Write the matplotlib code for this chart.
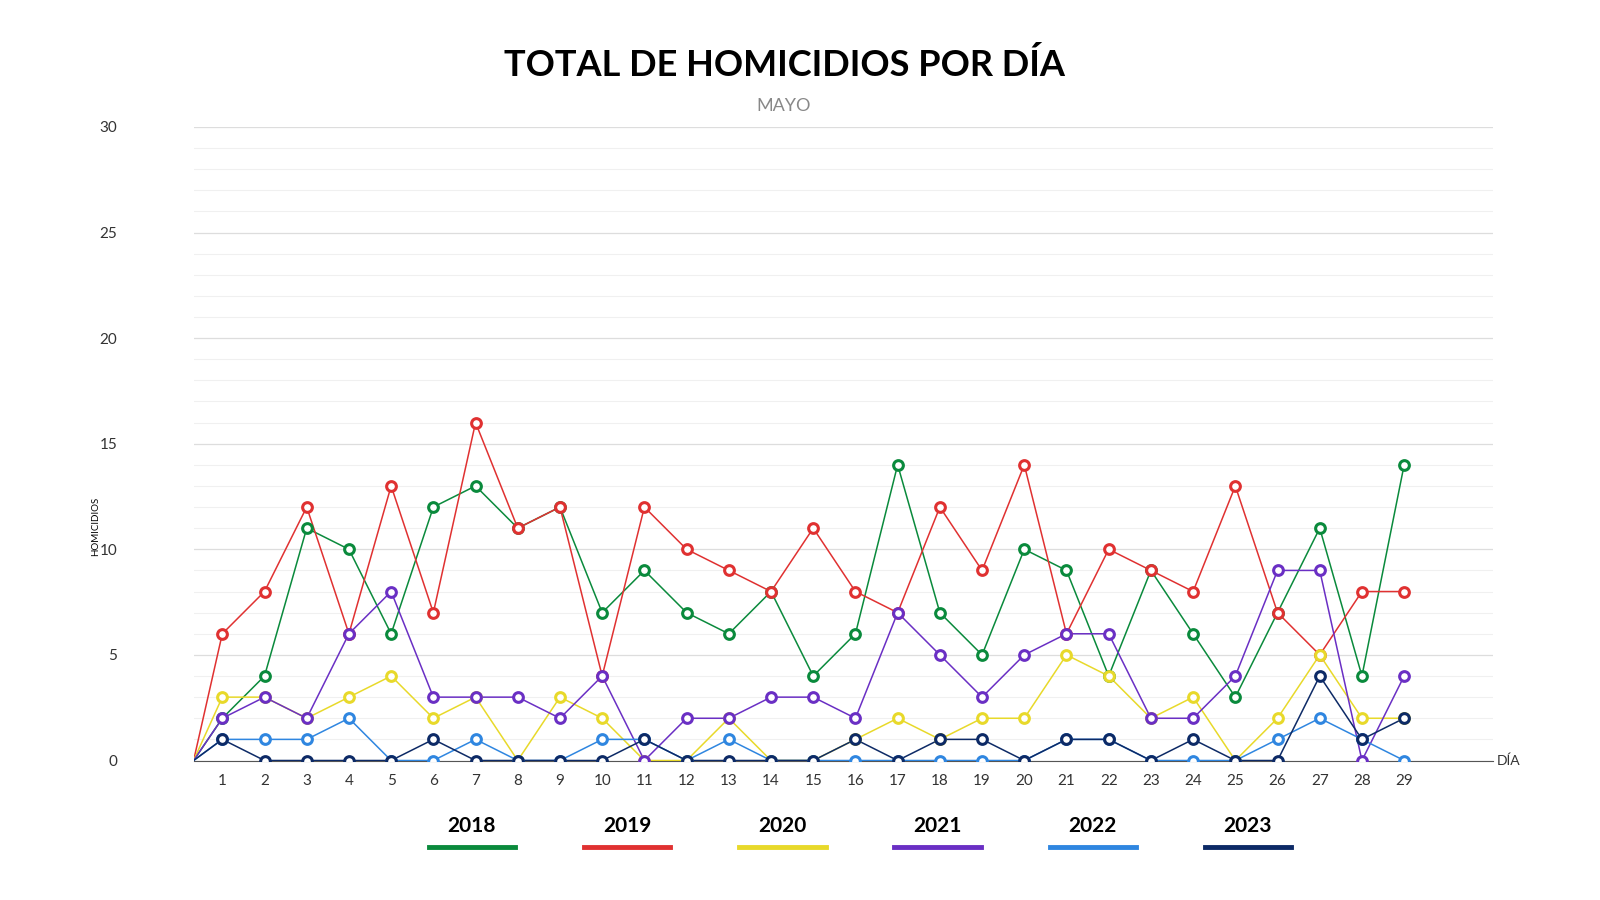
import numpy as np
import matplotlib.pyplot as plt
from matplotlib.lines import Line2D

days = np.arange(1, 30)
years = ['2018', '2019', '2020', '2021', '2022', '2023']
colors = ['#0a8a3c', '#e03131', '#e8d92a', '#6a2fc4', '#2f86e0', '#0d2a66']
v2018 = [2, 4, 11, 10, 6, 12, 13, 11, 12, 7, 9, 7, 6, 8, 4, 6, 14, 7, 5, 10, 9, 4, 9, 6, 3, 7, 11, 4, 14]
v2019 = [6, 8, 12, 6, 13, 7, 16, 11, 12, 4, 12, 10, 9, 8, 11, 8, 7, 12, 9, 14, 6, 10, 9, 8, 13, 7, 5, 8, 8]
v2020 = [3, 3, 2, 3, 4, 2, 3, 0, 3, 2, 0, 0, 2, 0, 0, 1, 2, 1, 2, 2, 5, 4, 2, 3, 0, 2, 5, 2, 2]
v2021 = [2, 3, 2, 6, 8, 3, 3, 3, 2, 4, 0, 2, 2, 3, 3, 2, 7, 5, 3, 5, 6, 6, 2, 2, 4, 9, 9, 0, 4]
v2022 = [1, 1, 1, 2, 0, 0, 1, 0, 0, 1, 1, 0, 1, 0, 0, 0, 0, 0, 0, 0, 1, 1, 0, 0, 0, 1, 2, 1, 0]
v2023 = [1, 0, 0, 0, 0, 1, 0, 0, 0, 0, 1, 0, 0, 0, 0, 1, 0, 1, 1, 0, 1, 1, 0, 1, 0, 0, 4, 1, 2]
series = [v2018, v2019, v2020, v2021, v2022, v2023]

plt.rcParams['font.family'] = ['Lato', 'DejaVu Sans']
fig = plt.figure(figsize=(16, 9), dpi=100)
ax = fig.add_axes([0.121, 0.155, 0.812, 0.704])

x0 = 0.32  # lines start at the axis origin
for vals, c in zip(series, colors):
    ax.plot(np.r_[x0, days], np.r_[0, vals], color=c, lw=1.1, zorder=3)
    ax.plot(days, vals, ls='none', marker='o', ms=7, mfc='white', mec=c, mew=2.2, zorder=4)

ax.set_xlim(x0, 31.1)
ax.set_ylim(0, 30)
ax.set_yticks(range(0, 31, 5))
ax.set_yticks(range(0, 31), minor=True)
ax.set_xticks(days)
ax.grid(axis='y', which='major', color='#dddddd', lw=0.9)
ax.grid(axis='y', which='minor', color='#f0f0f0', lw=0.8)
for s in ['top', 'right', 'left']:
    ax.spines[s].set_visible(False)
ax.spines['bottom'].set_color('#555555')
ax.tick_params(axis='both', which='both', length=0, labelsize=11, colors='#333333')
ax.tick_params(axis='y', pad=55)
ax.tick_params(axis='x', pad=10)
ax.set_ylabel('HOMICIDIOS', fontsize=7, labelpad=-18)
ax.yaxis.set_label_coords(-0.072, 0.37)
ax.text(31.2, 0, 'DÍA', fontsize=10, va='center', color='#333333')

fig.text(0.49, 0.915, 'TOTAL DE HOMICIDIOS POR DÍA', ha='center', fontsize=26, fontweight='bold')
fig.text(0.49, 0.877, 'MAYO', ha='center', fontsize=13, color='#888888')

lx = [0.295, 0.392, 0.489, 0.586, 0.683, 0.78]
for x, yr, c in zip(lx, years, colors):
    fig.text(x, 0.075, yr, ha='center', fontsize=15, fontweight='bold')
    fig.add_artist(Line2D([x - 0.027, x + 0.027], [0.059, 0.059], color=c, lw=3.5,
                          transform=fig.transFigure))

fig.savefig('out.png', dpi=100, facecolor='white')
